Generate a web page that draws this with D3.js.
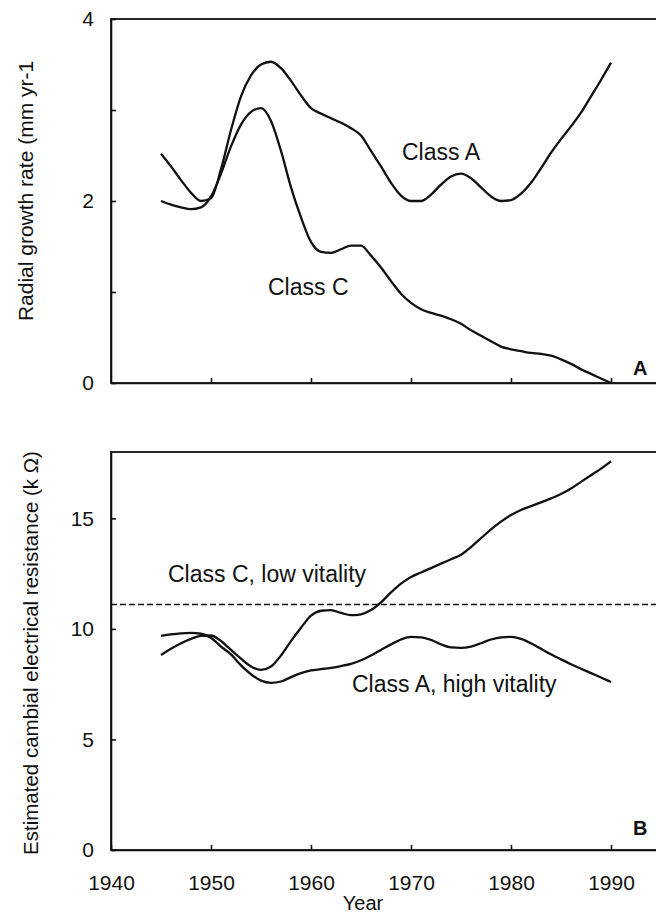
<!DOCTYPE html>
<html>
<head>
<meta charset="utf-8">
<script src="https://cdn.jsdelivr.net/npm/d3@7"></script>
<style>
	body { margin: 0; background: #fff; }
	text { font-family: "Liberation Sans", Arial, sans-serif; fill: #111; }
	.axis path, .axis line { stroke: #111; stroke-width: 1.6; }
	.axis text { font-size: 21px; font-family: "Liberation Sans", Arial, sans-serif; fill: #111; }
	.line { fill: none; stroke: #111; stroke-width: 2.3; }
</style>
</head>
<body>
<div id="chart-area"></div>
<script>

// data, one value per year 1945-1990
let years = d3.range(1945, 1991);

let growthA = [2.52, 2.38, 2.23, 2.09, 2.00, 2.03, 2.35, 2.78, 3.15, 3.38,
	3.50, 3.53, 3.46, 3.32, 3.16, 3.02, 2.96, 2.91, 2.86, 2.80,
	2.72, 2.55, 2.38, 2.20, 2.06, 2.00, 2.00, 2.07, 2.18, 2.27,
	2.30, 2.25, 2.15, 2.05, 2.00, 2.01, 2.08, 2.20, 2.36, 2.53,
	2.68, 2.82, 2.97, 3.15, 3.33, 3.52];

let growthC = [2.00, 1.96, 1.93, 1.91, 1.93, 2.05, 2.30, 2.60, 2.84, 2.98,
	3.02, 2.88, 2.55, 2.15, 1.82, 1.55, 1.44, 1.43, 1.47, 1.51,
	1.51, 1.40, 1.27, 1.12, 0.98, 0.88, 0.81, 0.77, 0.74, 0.70,
	0.65, 0.58, 0.52, 0.46, 0.40, 0.37, 0.35, 0.33, 0.32, 0.30,
	0.26, 0.21, 0.15, 0.10, 0.05, 0.00];

let resistC = [8.82, 9.10, 9.35, 9.55, 9.68, 9.70, 9.45, 9.05, 8.65, 8.30,
	8.15, 8.30, 8.80, 9.45, 10.05, 10.60, 10.82, 10.85, 10.72, 10.62,
	10.66, 10.85, 11.20, 11.65, 12.05, 12.35, 12.55, 12.75, 12.95, 13.15,
	13.35, 13.70, 14.10, 14.50, 14.85, 15.15, 15.38, 15.55, 15.72, 15.90,
	16.10, 16.35, 16.65, 16.95, 17.25, 17.58];

let resistA = [9.68, 9.75, 9.80, 9.82, 9.78, 9.60, 9.20, 8.85, 8.35, 7.95,
	7.66, 7.56, 7.62, 7.82, 8.00, 8.12, 8.18, 8.24, 8.32, 8.42,
	8.58, 8.80, 9.05, 9.30, 9.52, 9.64, 9.62, 9.50, 9.30, 9.16,
	9.14, 9.20, 9.35, 9.52, 9.62, 9.64, 9.55, 9.35, 9.10, 8.85,
	8.62, 8.40, 8.20, 8.00, 7.80, 7.60];

let threshold = 11.1;

let xTicks = [1940, 1950, 1960, 1970, 1980, 1990];
let growthTicks = [0, 1, 2, 3, 4];
let resistTicks = [0, 5, 10, 15];

let svgWidth = 656, svgHeight = 915;
let left = 111, right = 661;

let svg = d3.select("#chart-area").append("svg")
	.attr("width", svgWidth)
	.attr("height", svgHeight);

// Scales
let x = d3.scaleLinear()
	.domain([1940, 1995])
	.range([left, right]);

let yTop = d3.scaleLinear()
	.domain([0, 4])
	.range([383, 19]);

let yBot = d3.scaleLinear()
	.domain([0, 18])
	.range([850, 452]);

let line = y => d3.line()
	.x((d, i) => x(years[i]))
	.y(d => y(d))
	.curve(d3.curveMonotoneX);

// ---------- panel A ----------
svg.append("rect")
	.attr("x", left).attr("y", yTop(4))
	.attr("width", right - left).attr("height", yTop(0) - yTop(4))
	.attr("fill", "none").attr("stroke", "#111").attr("stroke-width", 1.8);

svg.append("g")
	.classed("axis", true)
	.attr("transform", "translate(" + left + ",0)")
	.call(d3.axisLeft(yTop).tickValues(growthTicks)
		.tickSizeInner(-5).tickSizeOuter(0).tickPadding(17)
		.tickFormat(d => d % 2 === 0 ? d : ""));

svg.append("g")
	.classed("axis", true)
	.attr("transform", "translate(0," + yTop(0) + ")")
	.call(d3.axisBottom(x).tickValues(xTicks.slice(1))
		.tickSizeInner(-5).tickSizeOuter(0).tickFormat(""));

svg.append("path").datum(growthA).classed("line", true).attr("d", line(yTop));
svg.append("path").datum(growthC).classed("line", true).attr("d", line(yTop));

svg.append("text").attr("x", 402).attr("y", 160)
	.style("font-size", "23px").text("Class A");
svg.append("text").attr("x", 268).attr("y", 295)
	.style("font-size", "23px").text("Class C");
svg.append("text").attr("x", 633).attr("y", 375)
	.style("font-size", "20px").style("font-weight", "bold").text("A");

svg.append("text")
	.attr("transform", "translate(33," + 191 + ") rotate(-90)")
	.attr("text-anchor", "middle")
	.style("font-size", "21px")
	.text("Radial growth rate (mm yr-1");

// ---------- panel B ----------
svg.append("rect")
	.attr("x", left).attr("y", yBot(18))
	.attr("width", right - left).attr("height", yBot(0) - yBot(18))
	.attr("fill", "none").attr("stroke", "#111").attr("stroke-width", 1.8);

svg.append("g")
	.classed("axis", true)
	.attr("transform", "translate(" + left + ",0)")
	.call(d3.axisLeft(yBot).tickValues(resistTicks)
		.tickSizeInner(-5).tickSizeOuter(0).tickPadding(17));

svg.append("g")
	.classed("axis", true)
	.attr("transform", "translate(0," + yBot(0) + ")")
	.call(d3.axisBottom(x).tickValues(xTicks)
		.tickSizeInner(-5).tickSizeOuter(0).tickPadding(25)
		.tickFormat(d3.format("d")));

svg.append("line")
	.attr("x1", left).attr("x2", right)
	.attr("y1", yBot(threshold)).attr("y2", yBot(threshold))
	.attr("stroke", "#111").attr("stroke-width", 1.5)
	.attr("stroke-dasharray", "6,3");

svg.append("path").datum(resistC).classed("line", true).attr("d", line(yBot));
svg.append("path").datum(resistA).classed("line", true).attr("d", line(yBot));

svg.append("text").attr("x", 168).attr("y", 582)
	.style("font-size", "23px").text("Class C, low vitality");
svg.append("text").attr("x", 352).attr("y", 692)
	.style("font-size", "23px").text("Class A, high vitality");
svg.append("text").attr("x", 633).attr("y", 835)
	.style("font-size", "20px").style("font-weight", "bold").text("B");

svg.append("text")
	.attr("transform", "translate(38," + 653 + ") rotate(-90)")
	.attr("text-anchor", "middle")
	.style("font-size", "20.5px")
	.text("Estimated cambial electrical resistance (k Ω)");

svg.append("text")
	.attr("x", 363).attr("y", 910)
	.attr("text-anchor", "middle")
	.style("font-size", "20px")
	.text("Year");

</script>
</body>
</html>
